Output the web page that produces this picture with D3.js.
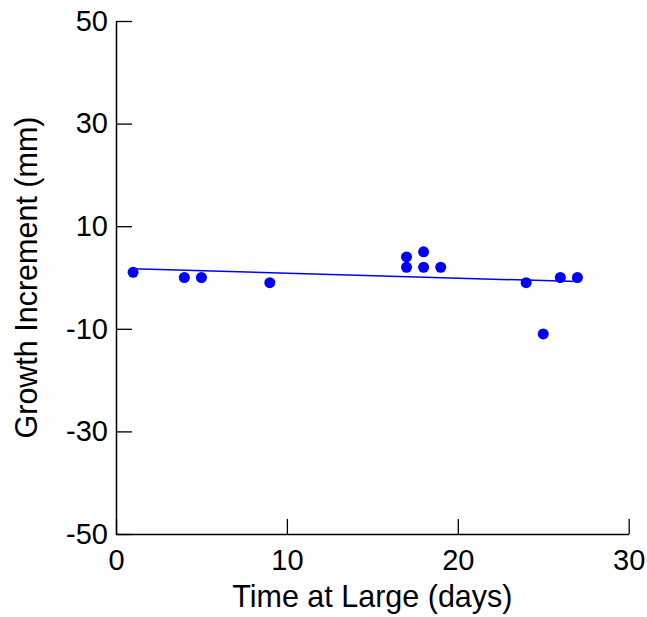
<!DOCTYPE html>
<html>
<head>
<meta charset="utf-8">
<script src="https://cdn.jsdelivr.net/npm/d3@7"></script>
<style>
  html, body { margin: 0; padding: 0; background: #fff; }
  svg { display: block; font-family: "Liberation Sans", Arial, sans-serif; }
</style>
</head>
<body>
<svg id="chart" width="647" height="617"></svg>
<script>
// Data
const daysAtLarge = [1, 4, 5, 9, 17, 17, 18, 18, 19, 24, 25, 26, 27];
const growthIncrement = [1, 0, 0, -1, 4, 2, 5, 2, 2, -1, -11, 0, 0];
const fitX = [1, 27];
const fitY = [1.7, -0.8];
const xTicks = [0, 10, 20, 30];
const yTicks = [-50, -30, -10, 10, 30, 50];
const xTitle = "Time at Large (days)";
const yTitle = "Growth Increment (mm)";

const svg = d3.select("#chart");
const plotLeft = 116, plotRight = 628.7, plotTop = 21, plotBottom = 534;
const tickFont = 29, titleFont = 30.5;

const x = d3.scaleLinear().domain([0, 30]).range([plotLeft, plotRight]);
const y = d3.scaleLinear().domain([-50, 50]).range([plotBottom, plotTop]);

// X axis (ticks pointing inward/up)
const gx = svg.append("g")
  .attr("transform", `translate(0,${plotBottom})`)
  .call(d3.axisBottom(x).tickValues(xTicks).tickSizeInner(-15).tickSizeOuter(0).tickPadding(15.5).tickFormat(d => String(d)));
gx.select(".domain").attr("stroke", "#000").attr("stroke-width", 1.5);
gx.selectAll(".tick line").attr("stroke", "#000").attr("stroke-width", 1.3);
gx.selectAll(".tick text").attr("font-size", tickFont).attr("fill", "#000")
  .attr("font-family", "Liberation Sans, Arial, sans-serif");

// Y axis (ticks pointing inward/right)
const gy = svg.append("g")
  .attr("transform", `translate(${plotLeft},0)`)
  .call(d3.axisLeft(y).tickValues(yTicks).tickSizeInner(-16).tickSizeOuter(0).tickPadding(8).tickFormat(d => String(d)));
gy.select(".domain").attr("stroke", "#000").attr("stroke-width", 1.5);
gy.selectAll(".tick line").attr("stroke", "#000").attr("stroke-width", 1.3);
gy.selectAll(".tick text").attr("font-size", tickFont).attr("fill", "#000")
  .attr("font-family", "Liberation Sans, Arial, sans-serif")
  .attr("x", -8);

// Fit line
svg.append("path")
  .datum(fitX.map((d, i) => [d, fitY[i]]))
  .attr("fill", "none")
  .attr("stroke", "#0000ff")
  .attr("stroke-width", 1.5)
  .attr("d", d3.line().x(d => x(d[0])).y(d => y(d[1])));

// Points
svg.append("g").selectAll("circle")
  .data(daysAtLarge.map((d, i) => [d, growthIncrement[i]]))
  .join("circle")
  .attr("cx", d => x(d[0]))
  .attr("cy", d => y(d[1]))
  .attr("r", 5.5)
  .attr("fill", "#0000ff");

// Axis titles
svg.append("text")
  .attr("x", (plotLeft + plotRight) / 2)
  .attr("y", 607)
  .attr("text-anchor", "middle")
  .attr("font-size", titleFont)
  .attr("fill", "#000")
  .text(xTitle);

svg.append("text")
  .attr("transform", `translate(37,${(plotTop + plotBottom) / 2}) rotate(-90)`)
  .attr("text-anchor", "middle")
  .attr("font-size", titleFont)
  .attr("fill", "#000")
  .text(yTitle);
</script>
</body>
</html>
